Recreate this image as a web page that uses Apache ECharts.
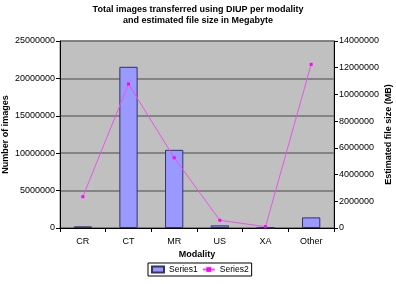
<!DOCTYPE html>
<html>
<head>
<meta charset="utf-8">
<script src="https://cdn.jsdelivr.net/npm/echarts@6/dist/echarts.min.js"></script>
<style>
  html, body { margin: 0; padding: 0; background: #fff; }
  #chart { width: 396px; height: 284px; }
</style>
</head>
<body>
<div id="chart"></div>
<script>
const categories = ['CR', 'CT', 'MR', 'US', 'XA', 'Other'];
const series1 = [220000, 21550000, 10450000, 350000, 60000, 1420000];
const series2 = [2340000, 10780000, 5260000, 580000, 100000, 12250000];
const leftTicks = [0, 25000000, 5000000];   // min, max, interval
const rightTicks = [0, 14000000, 2000000];

const chart = echarts.init(document.getElementById('chart'));
const font = 'Liberation Sans, Arial, sans-serif';
const plain = (v) => String(v);

chart.setOption({
  animation: false,
  textStyle: { fontFamily: font },
  title: {
    text: 'Total images transferred using DIUP per modality\nand estimated file size in Megabyte',
    left: 'center',
    top: -1,
    textStyle: { fontSize: 9, fontWeight: 'bold', color: '#000', lineHeight: 11, fontFamily: font }
  },
  grid: {
    left: 60, right: 62, top: 41, bottom: 56,
    outerBoundsMode: 'none', containLabel: false,
    show: true, backgroundColor: '#c0c0c0', borderColor: '#808080', borderWidth: 1
  },
  legend: {
    bottom: 8,
    left: 148,
    itemGap: 4,
    itemWidth: 12,
    itemHeight: 6,
    borderColor: '#000',
    borderWidth: 1,
    padding: [2, 3, 2, 3],
    textStyle: { fontSize: 8.5, color: '#000', fontFamily: font },
    data: [
      { name: 'Series1', icon: 'rect' },
      { name: 'Series2' }
    ]
  },
  xAxis: {
    type: 'category',
    data: categories,
    name: 'Modality',
    nameLocation: 'middle',
    nameGap: 22,
    nameMoveOverlap: false,
    nameTextStyle: { fontSize: 9, fontWeight: 'bold', color: '#000' },
    axisLine: { lineStyle: { color: '#000' } },
    axisTick: { show: true, alignWithLabel: false, length: 4, lineStyle: { color: '#000' } },
    axisLabel: { fontSize: 9, color: '#000', margin: 9 }
  },
  yAxis: [
    {
      type: 'value',
      min: leftTicks[0], max: leftTicks[1], interval: leftTicks[2],
      name: 'Number of images',
      nameLocation: 'middle',
      nameGap: 50,
      nameRotate: 90,
      nameMoveOverlap: false,
      nameTextStyle: { fontSize: 9, fontWeight: 'bold', color: '#000' },
      axisLine: { show: true, lineStyle: { color: '#000' } },
      axisTick: { show: true, length: 4, lineStyle: { color: '#000' } },
      axisLabel: { fontSize: 9, color: '#000', margin: 5, formatter: plain },
      splitLine: { show: true, lineStyle: { color: '#707070', width: 1.5 } }
    },
    {
      type: 'value',
      min: rightTicks[0], max: rightTicks[1], interval: rightTicks[2],
      name: 'Estimated file size (MB)',
      nameLocation: 'middle',
      nameGap: 50,
      nameRotate: 90,
      nameMoveOverlap: false,
      nameTextStyle: { fontSize: 9, fontWeight: 'bold', color: '#000' },
      axisLine: { show: true, lineStyle: { color: '#000' } },
      axisTick: { show: true, length: 4, lineStyle: { color: '#000' } },
      axisLabel: { fontSize: 9, color: '#000', margin: 5, formatter: plain },
      splitLine: { show: false }
    }
  ],
  series: [
    {
      name: 'Series1',
      type: 'bar',
      yAxisIndex: 0,
      barWidth: '40%',
      itemStyle: { color: '#9999ff', borderColor: '#333366', borderWidth: 1 },
      data: series1
    },
    {
      name: 'Series2',
      type: 'line',
      yAxisIndex: 1,
      symbol: 'rect',
      symbolSize: 3,
      lineStyle: { color: '#e855e8', width: 1 },
      itemStyle: { color: '#ff00ff' },
      data: series2
    }
  ]
});
</script>
</body>
</html>
